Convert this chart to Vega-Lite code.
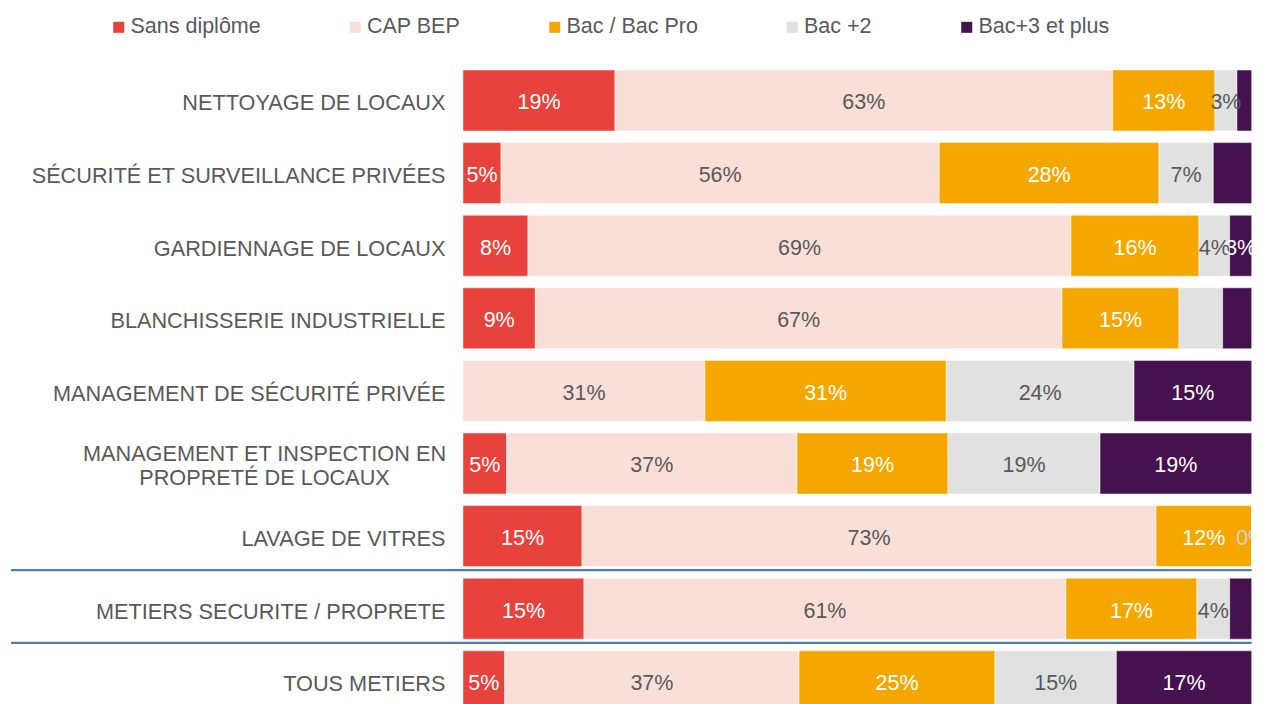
{
  "$schema": "https://vega.github.io/schema/vega-lite/v6.json",
  "width": 788.7,
  "height": 653.4,
  "autosize": {"type": "none"},
  "padding": {"left": 463, "top": 64.2, "right": 0, "bottom": 0},
  "background": "white",
  "config": {"view": {"stroke": null}, "font": "Liberation Sans"},
  "data": {
    "values": [
      {"cat": "NETTOYAGE DE LOCAUX", "level": "Sans diplôme", "ord": 1, "pct": 19.27, "label": "19%"},
      {"cat": "NETTOYAGE DE LOCAUX", "level": "CAP BEP", "ord": 2, "pct": 63.10, "label": "63%"},
      {"cat": "NETTOYAGE DE LOCAUX", "level": "Bac / Bac Pro", "ord": 3, "pct": 12.97, "label": "13%"},
      {"cat": "NETTOYAGE DE LOCAUX", "level": "Bac +2", "ord": 4, "pct": 2.79, "label": "3%"},
      {"cat": "NETTOYAGE DE LOCAUX", "level": "Bac+3 et plus", "ord": 5, "pct": 1.87, "label": ""},
      {"cat": "SÉCURITÉ ET SURVEILLANCE PRIVÉES", "level": "Sans diplôme", "ord": 1, "pct": 4.82, "label": "5%"},
      {"cat": "SÉCURITÉ ET SURVEILLANCE PRIVÉES", "level": "CAP BEP", "ord": 2, "pct": 55.57, "label": "56%"},
      {"cat": "SÉCURITÉ ET SURVEILLANCE PRIVÉES", "level": "Bac / Bac Pro", "ord": 3, "pct": 27.86, "label": "28%"},
      {"cat": "SÉCURITÉ ET SURVEILLANCE PRIVÉES", "level": "Bac +2", "ord": 4, "pct": 6.88, "label": "7%"},
      {"cat": "SÉCURITÉ ET SURVEILLANCE PRIVÉES", "level": "Bac+3 et plus", "ord": 5, "pct": 4.87, "label": ""},
      {"cat": "GARDIENNAGE DE LOCAUX", "level": "Sans diplôme", "ord": 1, "pct": 8.24, "label": "8%"},
      {"cat": "GARDIENNAGE DE LOCAUX", "level": "CAP BEP", "ord": 2, "pct": 68.85, "label": "69%"},
      {"cat": "GARDIENNAGE DE LOCAUX", "level": "Bac / Bac Pro", "ord": 3, "pct": 16.23, "label": "16%"},
      {"cat": "GARDIENNAGE DE LOCAUX", "level": "Bac +2", "ord": 4, "pct": 3.89, "label": "4%"},
      {"cat": "GARDIENNAGE DE LOCAUX", "level": "Bac+3 et plus", "ord": 5, "pct": 2.79, "label": "3%"},
      {"cat": "BLANCHISSERIE INDUSTRIELLE", "level": "Sans diplôme", "ord": 1, "pct": 9.17, "label": "9%"},
      {"cat": "BLANCHISSERIE INDUSTRIELLE", "level": "CAP BEP", "ord": 2, "pct": 66.78, "label": "67%"},
      {"cat": "BLANCHISSERIE INDUSTRIELLE", "level": "Bac / Bac Pro", "ord": 3, "pct": 14.83, "label": "15%"},
      {"cat": "BLANCHISSERIE INDUSTRIELLE", "level": "Bac +2", "ord": 4, "pct": 5.54, "label": ""},
      {"cat": "BLANCHISSERIE INDUSTRIELLE", "level": "Bac+3 et plus", "ord": 5, "pct": 3.68, "label": ""},
      {"cat": "MANAGEMENT DE SÉCURITÉ PRIVÉE", "level": "Sans diplôme", "ord": 1, "pct": 0, "label": ""},
      {"cat": "MANAGEMENT DE SÉCURITÉ PRIVÉE", "level": "CAP BEP", "ord": 2, "pct": 30.68, "label": "31%"},
      {"cat": "MANAGEMENT DE SÉCURITÉ PRIVÉE", "level": "Bac / Bac Pro", "ord": 3, "pct": 30.60, "label": "31%"},
      {"cat": "MANAGEMENT DE SÉCURITÉ PRIVÉE", "level": "Bac +2", "ord": 4, "pct": 23.80, "label": "24%"},
      {"cat": "MANAGEMENT DE SÉCURITÉ PRIVÉE", "level": "Bac+3 et plus", "ord": 5, "pct": 14.92, "label": "15%"},
      {"cat": "MANAGEMENT ET INSPECTION EN PROPRETÉ DE LOCAUX", "level": "Sans diplôme", "ord": 1, "pct": 5.54, "label": "5%"},
      {"cat": "MANAGEMENT ET INSPECTION EN PROPRETÉ DE LOCAUX", "level": "CAP BEP", "ord": 2, "pct": 36.81, "label": "37%"},
      {"cat": "MANAGEMENT ET INSPECTION EN PROPRETÉ DE LOCAUX", "level": "Bac / Bac Pro", "ord": 3, "pct": 19.15, "label": "19%"},
      {"cat": "MANAGEMENT ET INSPECTION EN PROPRETÉ DE LOCAUX", "level": "Bac +2", "ord": 4, "pct": 19.27, "label": "19%"},
      {"cat": "MANAGEMENT ET INSPECTION EN PROPRETÉ DE LOCAUX", "level": "Bac+3 et plus", "ord": 5, "pct": 19.23, "label": "19%"},
      {"cat": "LAVAGE DE VITRES", "level": "Sans diplôme", "ord": 1, "pct": 15.09, "label": "15%"},
      {"cat": "LAVAGE DE VITRES", "level": "CAP BEP", "ord": 2, "pct": 72.78, "label": "73%"},
      {"cat": "LAVAGE DE VITRES", "level": "Bac / Bac Pro", "ord": 3, "pct": 12.13, "label": "12%"},
      {"cat": "LAVAGE DE VITRES", "level": "Bac +2", "ord": 4, "pct": 0, "label": ""},
      {"cat": "LAVAGE DE VITRES", "level": "Bac+3 et plus", "ord": 5, "pct": 0, "label": "0%"},
      {"cat": "METIERS SECURITE / PROPRETE", "level": "Sans diplôme", "ord": 1, "pct": 15.34, "label": "15%"},
      {"cat": "METIERS SECURITE / PROPRETE", "level": "CAP BEP", "ord": 2, "pct": 61.11, "label": "61%"},
      {"cat": "METIERS SECURITE / PROPRETE", "level": "Bac / Bac Pro", "ord": 3, "pct": 16.61, "label": "17%"},
      {"cat": "METIERS SECURITE / PROPRETE", "level": "Bac +2", "ord": 4, "pct": 4.15, "label": "4%"},
      {"cat": "METIERS SECURITE / PROPRETE", "level": "Bac+3 et plus", "ord": 5, "pct": 2.79, "label": ""},
      {"cat": "TOUS METIERS", "level": "Sans diplôme", "ord": 1, "pct": 5.29, "label": "5%"},
      {"cat": "TOUS METIERS", "level": "CAP BEP", "ord": 2, "pct": 37.32, "label": "37%"},
      {"cat": "TOUS METIERS", "level": "Bac / Bac Pro", "ord": 3, "pct": 24.85, "label": "25%"},
      {"cat": "TOUS METIERS", "level": "Bac +2", "ord": 4, "pct": 15.38, "label": "15%"},
      {"cat": "TOUS METIERS", "level": "Bac+3 et plus", "ord": 5, "pct": 17.16, "label": "17%"}
    ]
  },
  "transform": [
    {"stack": "pct", "groupby": ["cat"], "sort": [{"field": "ord", "order": "ascending"}], "as": ["x0", "x1"]},
    {"calculate": "(datum.x0 + datum.x1) / 2", "as": "xmid"}
  ],
  "encoding": {
    "y": {
      "field": "cat",
      "type": "nominal",
      "sort": [
        "NETTOYAGE DE LOCAUX",
        "SÉCURITÉ ET SURVEILLANCE PRIVÉES",
        "GARDIENNAGE DE LOCAUX",
        "BLANCHISSERIE INDUSTRIELLE",
        "MANAGEMENT DE SÉCURITÉ PRIVÉE",
        "MANAGEMENT ET INSPECTION EN PROPRETÉ DE LOCAUX",
        "LAVAGE DE VITRES",
        "METIERS SECURITE / PROPRETE",
        "TOUS METIERS"
      ],
      "scale": {"paddingInner": 0.16, "paddingOuter": 0.08},
      "axis": {
        "title": null,
        "domain": false,
        "ticks": false,
        "grid": false,
        "labelPadding": {"condition": {"test": "datum.value == 'MANAGEMENT ET INSPECTION EN PROPRETÉ DE LOCAUX'", "value": 199}, "value": 18},
        "labelAlign": {"condition": {"test": "datum.value == 'MANAGEMENT ET INSPECTION EN PROPRETÉ DE LOCAUX'", "value": "center"}, "value": "right"},
        "labelOffset": {"condition": {"test": "datum.value == 'MANAGEMENT ET INSPECTION EN PROPRETÉ DE LOCAUX'", "value": -9}, "value": 3},
        "labelFont": "Liberation Sans",
        "labelFontSize": 21.7,
        "labelColor": "#595959",
        "labelLimit": 600,
        "labelLineHeight": 24,
        "labelExpr": "datum.value == 'MANAGEMENT ET INSPECTION EN PROPRETÉ DE LOCAUX' ? ['MANAGEMENT ET INSPECTION EN', 'PROPRETÉ DE LOCAUX'] : datum.label"
      }
    }
  },
  "layer": [
    {
      "mark": {"type": "bar", "stroke": "white", "strokeWidth": 0.5},
      "encoding": {
        "x": {"field": "x0", "type": "quantitative", "scale": {"domain": [0, 100]}, "axis": null},
        "x2": {"field": "x1"},
        "color": {
          "field": "level",
          "type": "nominal",
          "scale": {
            "domain": ["Sans diplôme", "CAP BEP", "Bac / Bac Pro", "Bac +2", "Bac+3 et plus"],
            "range": ["#E8423C", "#FADFD8", "#F5A700", "#E1E1E1", "#46114F"]
          },
          "legend": {
            "title": null,
            "orient": "none",
            "direction": "horizontal",
            "legendX": -355,
            "legendY": -48,
            "symbolType": "square",
            "symbolSize": 121,
            "symbolStrokeWidth": 0,
            "labelFont": "Liberation Sans",
            "labelFontSize": 21.5,
            "labelColor": "#595959",
            "labelOffset": 1,
            "columnPadding": 83.5,
            "labelLimit": 300
          }
        }
      }
    },
    {
      "mark": {"type": "text", "fontSize": 21.5, "font": "Liberation Sans", "baseline": "middle", "align": "center", "dy": 3},
      "encoding": {
        "x": {"field": "xmid", "type": "quantitative"},
        "text": {"field": "label"},
        "color": {
          "condition": [
            {"test": "datum.label == '0%'", "value": "#D0D0D0"},
            {"test": "datum.level == 'CAP BEP' || datum.level == 'Bac +2'", "value": "#595959"}
          ],
          "value": "white"
        }
      }
    },
    {
      "data": {"values": [{"cat": "METIERS SECURITE / PROPRETE"}, {"cat": "TOUS METIERS"}]},
      "transform": [],
      "mark": {"type": "rule", "color": "#4A7EBB", "strokeWidth": 2.2, "yOffset": -8},
      "encoding": {
        "y": {"field": "cat", "type": "nominal", "bandPosition": 0},
        "x": {"datum": -57.3},
        "x2": {"datum": 100}
      }
    }
  ]
}
